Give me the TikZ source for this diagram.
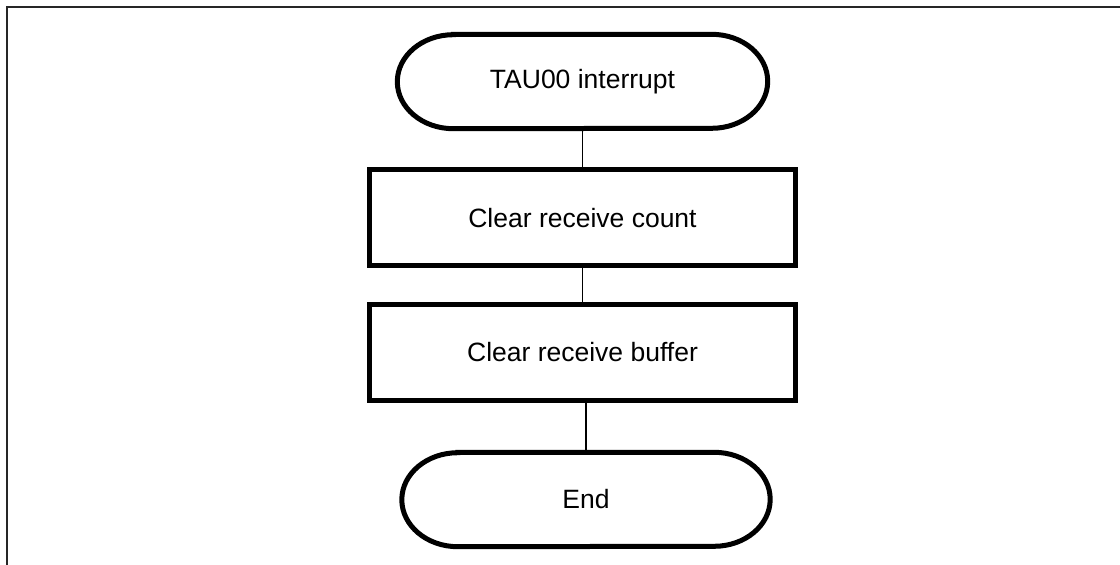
\documentclass[tikz,border=0pt]{standalone}
\usepackage{fontspec}
\setmainfont{Liberation Sans}
\usetikzlibrary{calc}
\tikzset{
  x=1pt, y=-1pt,
  frameline/.style={line width=2pt, draw=black!85},
  procbox/.style={draw, line width=5pt, minimum width=426pt, minimum height=96pt, inner sep=0pt, font=\fontsize{26.5}{30}\selectfont},
  termnode/.style={minimum width=370pt, minimum height=94pt, inner sep=0pt, font=\fontsize{26.5}{30}\selectfont},
  termline/.style={line width=5pt},
  link/.style={line width=1.3pt}
}
\newcommand\termoutline[1]{%
  \draw[termline] ($(#1.north west)+(56,0)$) -- ($(#1.north east)+(-56,0)$)
    arc[start angle=-90, end angle=90, x radius=56, y radius=47]
    -- ($(#1.south west)+(56,0)$)
    arc[start angle=90, end angle=270, x radius=56, y radius=47] -- cycle;}
\begin{document}
\begin{tikzpicture}
\useasboundingbox (0,0) rectangle (1120,565);
\draw[frameline] (6.7,565) -- (6.7,7) -- (1120,7);
\node[termnode] (t1) at (582.5,81.5) {TAU00 interrupt};
\termoutline{t1}
\node[procbox] (p1) at (582.5,217.75) {Clear receive count};
\node[procbox] (p2) at (582.5,352.5) {Clear receive buffer};
\node[termnode, minimum width=368pt] (t2) at (586,499.5) {End};
\termoutline{t2}
\draw[link] (t1.south) -- (p1.north);
\draw[link] (p1.south) -- (p2.north);
\draw[link] (t2.north |- p2.south) -- (t2.north);
\end{tikzpicture}
\end{document}
